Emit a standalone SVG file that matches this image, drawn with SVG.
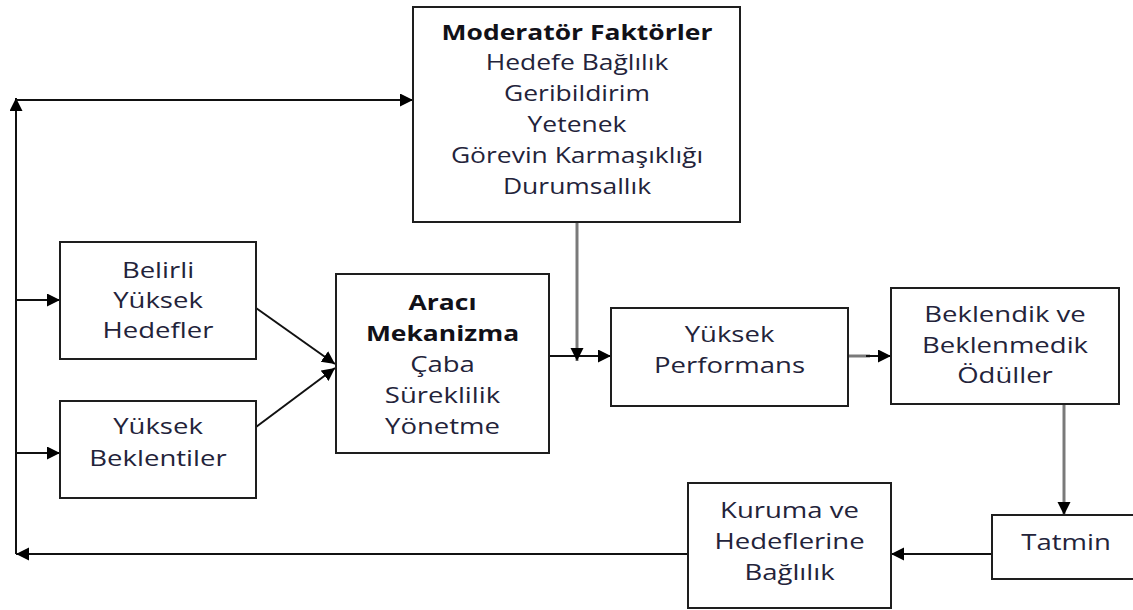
<svg xmlns="http://www.w3.org/2000/svg" width="1133" height="610" viewBox="0 0 1133 610">
  <style>
    .box { fill: #ffffff; stroke: #1e1e1e; stroke-width: 2; }
    .lbl { font-family: "Open Sans", "Liberation Sans", sans-serif; font-size: 21px; fill: #23233a; text-anchor: middle; }
    .bold { font-weight: 700; fill: #111118; }
    .wire { fill: none; stroke: #111111; stroke-width: 2; }
    .wire-gray { fill: none; stroke: #7a7a7a; stroke-width: 3; }
  </style>
  <defs>
    <marker id="arrow" markerUnits="userSpaceOnUse" markerWidth="14" markerHeight="14" refX="13" refY="6.5" orient="auto">
      <path d="M0,0 L13,6.5 L0,13 Z" fill="#000000"/>
    </marker>
  </defs>

  <rect width="1133" height="610" fill="#ffffff"/>

  <!-- connectors -->
  <g id="connectors">
    <!-- feedback loop: bottom line back to the left spine, up to the moderators -->
    <line class="wire" x1="688" y1="554" x2="16" y2="554" marker-end="url(#arrow)"/>
    <line class="wire" x1="16" y1="554" x2="16" y2="98" marker-end="url(#arrow)"/>
    <line class="wire" x1="16" y1="100" x2="413" y2="100" marker-end="url(#arrow)"/>
    <!-- spine to the two goal boxes -->
    <line class="wire" x1="16" y1="300" x2="60" y2="300" marker-end="url(#arrow)"/>
    <line class="wire" x1="16" y1="453" x2="60" y2="453" marker-end="url(#arrow)"/>
    <!-- goals to mediating mechanism -->
    <line class="wire" x1="256" y1="308" x2="335" y2="364" marker-end="url(#arrow)"/>
    <line class="wire" x1="256" y1="427" x2="335" y2="368" marker-end="url(#arrow)"/>
    <!-- mechanism to high performance -->
    <line class="wire" x1="549" y1="356" x2="611" y2="356" marker-end="url(#arrow)"/>
    <!-- moderators down onto that path -->
    <line class="wire-gray" x1="577" y1="222" x2="577" y2="361" marker-end="url(#arrow)"/>
    <!-- performance to rewards -->
    <line class="wire-gray" x1="848" y1="356" x2="870" y2="356"/>
    <line class="wire" x1="866" y1="356" x2="891" y2="356" marker-end="url(#arrow)"/>
    <!-- rewards to satisfaction -->
    <line class="wire-gray" x1="1064" y1="404" x2="1064" y2="515" marker-end="url(#arrow)"/>
    <!-- satisfaction to commitment -->
    <line class="wire" x1="992" y1="554" x2="891" y2="554" marker-end="url(#arrow)"/>
  </g>

  <g id="moderator">
    <rect class="box" x="413" y="7" width="327" height="215"/>
    <g transform="translate(577,0) scale(1.26,1)">
      <text class="lbl bold" x="0" y="40">Moderatör Faktörler</text>
      <text class="lbl" x="0" y="70">Hedefe Bağlılık</text>
      <text class="lbl" x="0" y="101">Geribildirim</text>
      <text class="lbl" x="0" y="132">Yetenek</text>
      <text class="lbl" x="0" y="163">Görevin Karmaşıklığı</text>
      <text class="lbl" x="0" y="194">Durumsallık</text>
    </g>
  </g>

  <g id="specific-goals">
    <rect class="box" x="60" y="242" width="196" height="117"/>
    <g transform="translate(158,0) scale(1.31,1)">
      <text class="lbl" x="0" y="278">Belirli</text>
      <text class="lbl" x="0" y="308">Yüksek</text>
      <text class="lbl" x="0" y="338">Hedefler</text>
    </g>
  </g>

  <g id="high-expectations">
    <rect class="box" x="60" y="401" width="196" height="97"/>
    <g transform="translate(158,0) scale(1.31,1)">
      <text class="lbl" x="0" y="434">Yüksek</text>
      <text class="lbl" x="0" y="466">Beklentiler</text>
    </g>
  </g>

  <g id="mechanism">
    <rect class="box" x="336" y="274" width="213" height="179"/>
    <g transform="translate(442.5,0) scale(1.26,1)">
      <text class="lbl bold" x="0" y="310">Aracı</text>
      <text class="lbl bold" x="0" y="341">Mekanizma</text>
    </g>
    <g transform="translate(442.5,0) scale(1.31,1)">
      <text class="lbl" x="0" y="372">Çaba</text>
      <text class="lbl" x="0" y="403">Süreklilik</text>
      <text class="lbl" x="0" y="434">Yönetme</text>
    </g>
  </g>

  <g id="performance">
    <rect class="box" x="611" y="308" width="237" height="98"/>
    <g transform="translate(729.5,0) scale(1.31,1)">
      <text class="lbl" x="0" y="342">Yüksek</text>
      <text class="lbl" x="0" y="373">Performans</text>
    </g>
  </g>

  <g id="rewards">
    <rect class="box" x="891" y="288" width="228" height="116"/>
    <g transform="translate(1005,0) scale(1.31,1)">
      <text class="lbl" x="0" y="322">Beklendik ve</text>
      <text class="lbl" x="0" y="353">Beklenmedik</text>
      <text class="lbl" x="0" y="383">Ödüller</text>
    </g>
  </g>

  <g id="satisfaction">
    <rect class="box" x="992" y="515" width="150" height="64"/>
    <g transform="translate(1066,0) scale(1.31,1)">
      <text class="lbl" x="0" y="550">Tatmin</text>
    </g>
  </g>

  <g id="commitment">
    <rect class="box" x="688" y="483" width="203" height="125"/>
    <g transform="translate(789.5,0) scale(1.31,1)">
      <text class="lbl" x="0" y="518">Kuruma ve</text>
      <text class="lbl" x="0" y="549">Hedeflerine</text>
      <text class="lbl" x="0" y="580">Bağlılık</text>
    </g>
  </g>
</svg>
